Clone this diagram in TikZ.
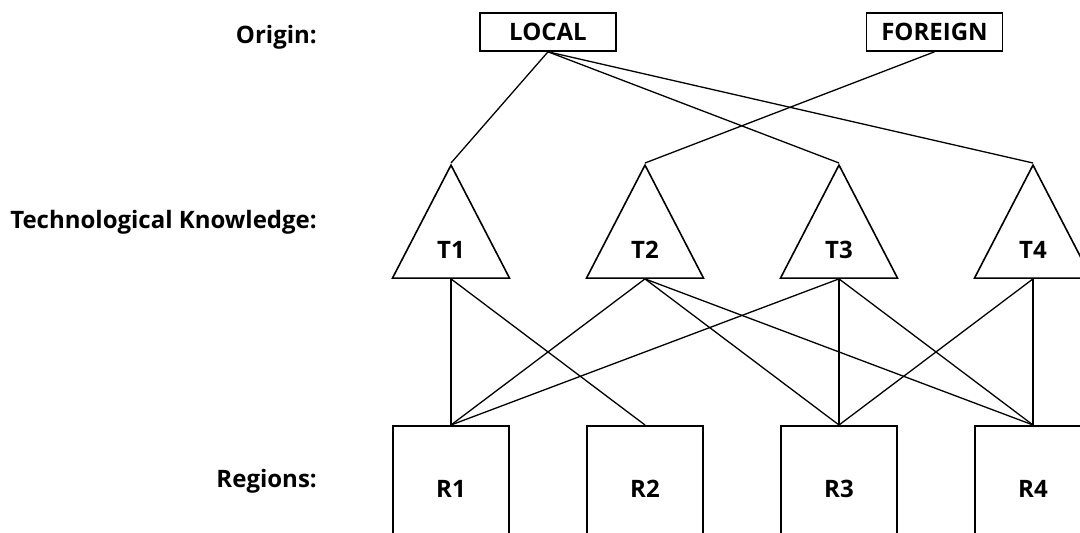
\documentclass[tikz,border=0pt]{standalone}
\usepackage{fontspec}
\setmainfont{Open Sans}
\usetikzlibrary{shapes.geometric, positioning}
\tikzset{
    origin/.style={rectangle, draw=black, line width=1.6pt, minimum width=136pt, minimum height=38pt, inner sep=0pt, font=\bfseries\fontsize{24}{29}\selectfont},
    knowledge/.style={isosceles triangle, isosceles triangle stretches, shape border rotate=90, draw=black, line width=1.6pt, minimum width=117pt, minimum height=113pt, inner sep=0pt},
    region/.style={rectangle, draw=black, line width=1.6pt, minimum width=116pt, minimum height=130pt, inner sep=0pt, anchor=north},
    tag/.style={anchor=base, inner sep=0pt, font=\bfseries\fontsize{24}{29}\selectfont},
    heading/.style={anchor=base east, inner sep=0pt, font=\bfseries\fontsize{24}{29}\selectfont},
    link/.style={line width=1.3pt},
}
\begin{document}
\begin{tikzpicture}[x=1pt, y=-1pt]
    \useasboundingbox (0,0) rectangle (1080,533);
    \clip (0,0) rectangle (1080,533);

    % level names
    \node [heading] (horigin) at (317,43) {Origin:};
    \node [heading] (hknow) at (317,228) {Technological Knowledge:};
    \node [heading] (hregion) at (317,487) {Regions:};

    % origin
    \node [origin] (local) at (548,32) {LOCAL};
    \node [origin] (foreign) at (934.5,32) {FOREIGN};

    % knowledge and regions
    \foreach \i/\x in {1/451, 2/645, 3/839, 4/1033} {
        \node [knowledge, anchor=apex] (t\i) at (\x,163) {};
        \node [tag] (tl\i) at (\x,258) {T\i};
        \node [region] (r\i) at (\x,425) {};
        \node [tag] (rl\i) at (\x,497) {R\i};
    }

    \draw [link] (local.south) -- (t1.apex);
    \draw [link] (local.south) -- (t3.apex);
    \draw [link] (local.south) -- (t4.apex);
    \draw [link] (foreign.south) -- (t2.apex);

    \draw [link] (t1.lower side) -- (r1.north);
    \draw [link] (t1.lower side) -- (r2.north);
    \draw [link] (t2.lower side) -- (r1.north);
    \draw [link] (t2.lower side) -- (r3.north);
    \draw [link] (t2.lower side) -- (r4.north);
    \draw [link] (t3.lower side) -- (r1.north);
    \draw [link] (t3.lower side) -- (r3.north);
    \draw [link] (t3.lower side) -- (r4.north);
    \draw [link] (t4.lower side) -- (r3.north);
    \draw [link] (t4.lower side) -- (r4.north);
\end{tikzpicture}
\end{document}
